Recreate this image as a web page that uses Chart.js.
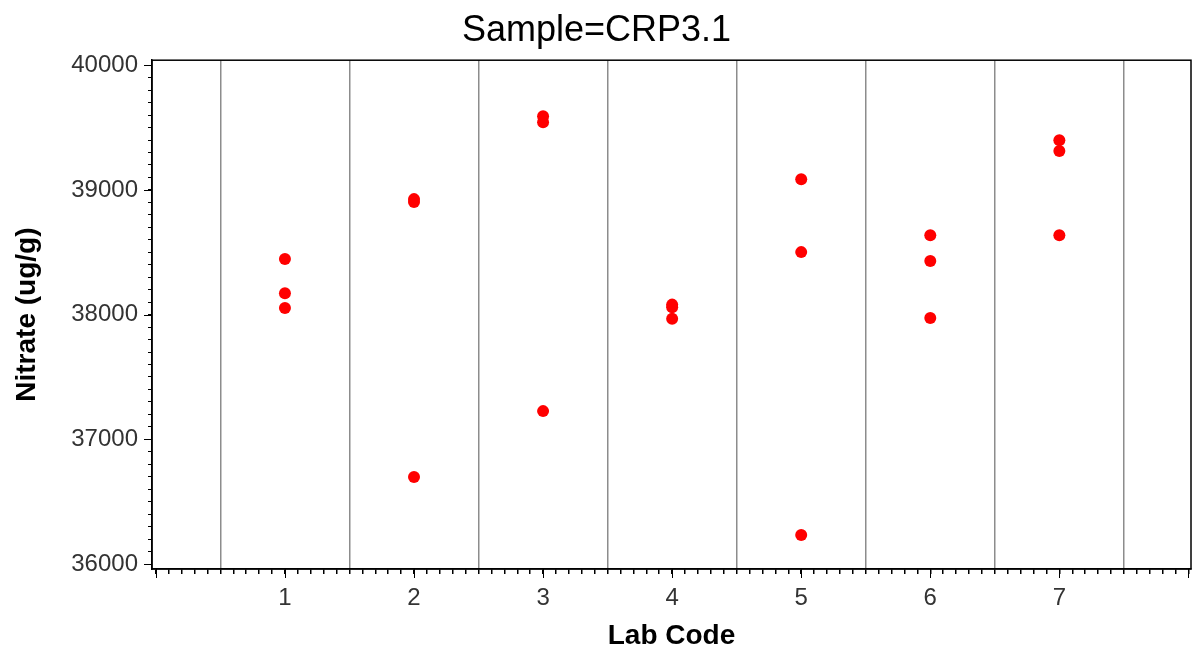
<!DOCTYPE html>
<html>
<head>
<meta charset="utf-8">
<script src="https://cdn.jsdelivr.net/npm/chart.js@4/dist/chart.umd.min.js"></script>
<style>
  body { margin: 0; background: #fff; }
  #wrap { width: 1197px; height: 658px; }
</style>
</head>
<body>
<div id="wrap"><canvas id="nitrateChart"></canvas></div>
<script>
// Lab codes on the x axis and the three replicate results of each lab
const labCodes = [1, 2, 3, 4, 5, 6, 7];
const nitrateResults = [
  [38445, 38172, 38052],
  [38926, 38902, 36697],
  [39591, 39543, 37226],
  [38080, 38058, 37966],
  [39086, 38501, 36232],
  [38637, 38429, 37972],
  [39399, 39311, 38637]
];
// Tick labels
const xTickLabels = ['1', '2', '3', '4', '5', '6', '7'];
const yTickLabels = ['36000', '37000', '38000', '39000', '40000'];

// Build the points (lab code, result)
const points = [];
labCodes.forEach((lab, i) => {
  nitrateResults[i].forEach(v => points.push({ x: lab, y: v }));
});

// Minor tick positions: every 0.1 on x, every 100 on y
const xTicks = [];
for (let i = 0; i <= 80; i++) xTicks.push(i / 10);
const yTicks = [];
for (let v = 36000; v <= 40000; v += 100) yTicks.push(v);

const fontFamily = '"Liberation Sans", Arial, sans-serif';

// Frame around the plot and the longer major tick marks
const frameAndMajorTicks = {
  id: 'frameAndMajorTicks',
  afterDraw(chart) {
    const { ctx, chartArea, scales } = chart;
    ctx.save();
    ctx.strokeStyle = '#000';
    ctx.lineWidth = 1;
    ctx.beginPath();
    // major ticks x (integers)
    scales.x.ticks.forEach(t => {
      if (Math.abs(t.value - Math.round(t.value)) < 1e-6) {
        const px = Math.round(scales.x.getPixelForValue(t.value)) + 0.5;
        ctx.moveTo(px, chartArea.bottom);
        ctx.lineTo(px, chartArea.bottom + 9);
      }
    });
    // major ticks y (thousands)
    scales.y.ticks.forEach(t => {
      if (t.value % 1000 === 0) {
        const py = Math.round(scales.y.getPixelForValue(t.value)) + 0.5;
        ctx.moveTo(chartArea.left - 8, py);
        ctx.lineTo(chartArea.left, py);
      }
    });
    ctx.stroke();
    ctx.lineWidth = 1.5;
    ctx.strokeRect(chartArea.left, chartArea.top, chartArea.right - chartArea.left, chartArea.bottom - chartArea.top);
    ctx.restore();
  }
};

const ctxNitrate = document.getElementById('nitrateChart').getContext('2d');

new Chart(ctxNitrate, {
  type: 'scatter',
  data: {
    datasets: [{
      label: 'Nitrate',
      data: points,
      backgroundColor: '#ff0000',
      borderColor: '#ff0000',
      borderWidth: 0,
      pointRadius: 6,
      pointHoverRadius: 6
    }]
  },
  options: {
    responsive: true,
    maintainAspectRatio: false,
    animation: false,
    layout: { padding: { left: 0, right: 4, top: 0, bottom: 0 } },
    plugins: {
      legend: { display: false },
      tooltip: { enabled: false },
      title: {
        display: true,
        text: 'Sample=CRP3.1',
        color: '#000',
        font: { family: fontFamily, size: 36, weight: 'normal' },
        padding: { top: 9, bottom: 8 }
      }
    },
    scales: {
      x: {
        type: 'linear',
        min: -0.03,
        max: 8.02,
        afterBuildTicks: scale => { scale.ticks = xTicks.map(v => ({ value: v })); },
        afterFit: scale => {
          scale.height = 89;
          scale.paddingLeft = 0;
          scale.paddingRight = 0;
        },
        ticks: {
          autoSkip: false,
          maxRotation: 0,
          padding: 10,
          color: '#333',
          font: { family: fontFamily, size: 24 },
          callback: v => {
            const k = Math.round(v);
            if (Math.abs(v - k) > 1e-6) return '';
            return xTickLabels[k - 1] || '';
          }
        },
        grid: {
          drawOnChartArea: true,
          tickLength: 5,
          tickColor: '#000',
          lineWidth: 1.5,
          color: c => {
            if (!c.tick) return 'rgba(0,0,0,0)';
            const f = c.tick.value - Math.floor(c.tick.value);
            return Math.abs(f - 0.5) < 1e-6 ? '#8c8c8c' : 'rgba(0,0,0,0)';
          }
        },
        border: { display: true, color: '#000', width: 1.5 },
        title: {
          display: true,
          text: 'Lab Code',
          color: '#000',
          font: { family: fontFamily, size: 28, weight: 'bold' },
          padding: { top: 0, bottom: 5 }
        }
      },
      y: {
        type: 'linear',
        min: 35960,
        max: 40040,
        afterBuildTicks: scale => { scale.ticks = yTicks.map(v => ({ value: v })); },
        afterFit: scale => { scale.width = 152; },
        ticks: {
          autoSkip: false,
          padding: 10,
          color: '#333',
          font: { family: fontFamily, size: 24 },
          callback: v => (v % 1000 === 0 ? yTickLabels[(v - 36000) / 1000] : '')
        },
        grid: {
          drawOnChartArea: false,
          tickLength: 4,
          tickColor: '#000'
        },
        border: { display: true, color: '#000', width: 1.5 },
        title: {
          display: true,
          text: 'Nitrate (ug/g)',
          color: '#000',
          font: { family: fontFamily, size: 28, weight: 'bold' },
          padding: { top: 10, bottom: 0 }
        }
      }
    }
  },
  plugins: [frameAndMajorTicks]
});
</script>
</body>
</html>
